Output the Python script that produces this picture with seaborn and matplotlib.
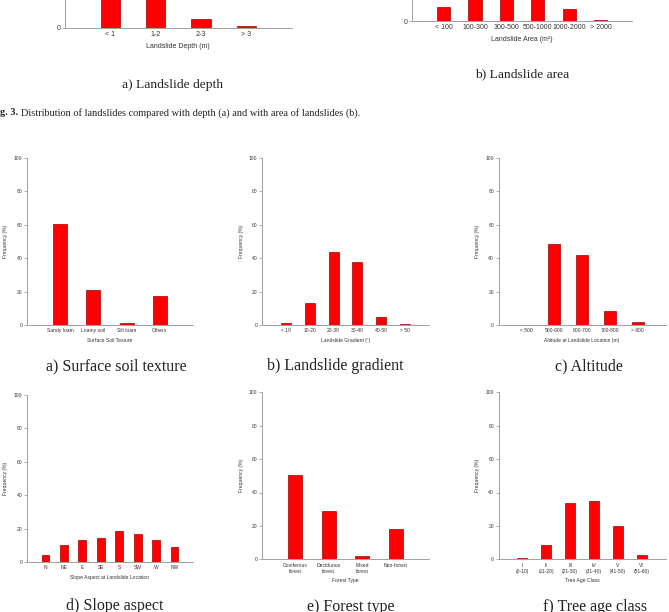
import pandas as pd
import seaborn as sns
import matplotlib.pyplot as plt

# Data (frequency in %)
depth_cats = ['< 1', '1-2', '2-3', '> 3']
depth_freq = [48.0, 46.0, 5.0, 1.0]
area_cats = ['< 100', '100-300', '300-500', '500-1000', '1000-2000', '> 2000']
area_freq = [8.2, 28.0, 30.0, 26.0, 7.4, 0.6]
soil_cats = ['Sandy loam', 'Loamy soil', 'Silt loam', 'Others']
soil_freq = [60.4, 21.1, 1.2, 17.3]
gradient_cats = ['< 10', '10-20', '20-30', '30-40', '40-50', '> 50']
gradient_freq = [1.4, 13.0, 43.5, 37.7, 4.6, 0.3]
altitude_cats = ['< 500', '500-600', '600-700', '700-800', '> 800']
altitude_freq = [0.0, 48.7, 41.7, 8.2, 1.8]
aspect_cats = ['N', 'NE', 'E', 'SE', 'S', 'SW', 'W', 'NW']
aspect_freq = [4.2, 10.2, 13.0, 14.6, 18.6, 16.8, 13.0, 8.8]
forest_cats = ['Coniferous\nforest', 'Deciduous\nforest', 'Mixed\nforest', 'Non-forest']
forest_freq = [50.2, 29.2, 2.2, 18.4]
age_cats = ['I\n(0-10)', 'II\n(11-20)', 'III\n(21-30)', 'IV\n(31-40)', 'V\n(41-50)', 'VI\n(51-60)']
age_freq = [0.8, 8.4, 33.6, 35.0, 20.0, 2.8]

W, H = 669, 612
sns.set_style('white')
plt.rcParams['font.family'] = ['Liberation Sans', 'DejaVu Sans']

fig = plt.figure(figsize=(W / 100, H / 100), dpi=100)
SPINE = '#a0a0a0'
TXT = '#333333'
SERIF = ['Liberation Serif', 'DejaVu Serif']


def bar_panel(cats, vals, left, zero_y, width, fs, xlabel, cropped=False):
    # axes placed in pixel units, 167 px for 0-100 %
    ax = fig.add_axes([left / W, 1 - zero_y / H, width / W, 167 / H])
    df = pd.DataFrame({'cat': cats, 'freq': vals})
    sns.barplot(data=df, x='cat', y='freq', color='#ff0000', saturation=1,
                width=0.42, edgecolor='#a00000', linewidth=0.5, ax=ax)
    ax.set_xlim(-1, len(cats))
    ax.set_ylim(0, 100)
    sns.despine(ax=ax)
    for s in ['left', 'bottom']:
        ax.spines[s].set_color(SPINE)
        ax.spines[s].set_linewidth(0.7)
    ax.tick_params(axis='y', length=2.2, width=0.6, color=SPINE,
                   labelsize=fs, labelcolor=TXT, pad=1, left=True)
    ax.tick_params(axis='x', length=0, labelsize=fs, labelcolor=TXT, pad=2.5)
    ax.set_xlabel(xlabel, fontsize=fs, color=TXT, labelpad=3.5)
    if cropped:
        # the upper part of these charts is cut off by the page edge
        ax.set_yticks([0])
        ax.set_ylabel('')
    else:
        ax.set_yticks(range(0, 101, 20))
        ax.set_ylabel('Frequency (%)', fontsize=fs, color=TXT, labelpad=4)
    return ax


# partially visible top row (Fig. 3)
bar_panel(depth_cats, depth_freq, 65, 27.7, 226.7, 5, 'Landslide Depth (m)', cropped=True)
bar_panel(area_cats, area_freq, 412, 21, 220.3, 5, 'Landslide Area (m\u00b2)', cropped=True)

# Fig. 4 panels
bar_panel(soil_cats, soil_freq, 27, 325, 166, 3.6, 'Surface Soil Texture')
bar_panel(gradient_cats, gradient_freq, 262, 325, 167, 3.6, 'Landslide Gradient (\u00b0)')
bar_panel(altitude_cats, altitude_freq, 498.5, 325, 167, 3.6, 'Altitude at Landslide Location (m)')
bar_panel(aspect_cats, aspect_freq, 27, 562, 166, 3.6, 'Slope Aspect at Landslide Location')
bar_panel(forest_cats, forest_freq, 262, 559.3, 167, 3.6, 'Forest Type')
bar_panel(age_cats, age_freq, 498.5, 559.3, 167, 3.6, 'Tree Age Class')

# panel captions (x center, baseline y, text, size)
captions = [
    (173, 87.7, 'a) Landslide depth', 9.7),
    (522, 77.0, 'b) Landslide area', 9.7),
    (116, 370, 'a) Surface soil texture', 11.5),
    (335, 370, 'b) Landslide gradient', 11.5),
    (589, 370, 'c) Altitude', 11.5),
    (115, 610.5, 'd) Slope aspect', 11.5),
    (351, 611, 'e) Forest type', 11.5),
    (595, 611, 'f) Tree age class', 11.5),
]
for x, y, t, s in captions:
    fig.text(x / W, 1 - y / H, t, ha='center', va='baseline', fontsize=s,
             family=SERIF, color='#222222')

# figure caption, cut at the left page edge
t1 = fig.text(-9 / W, 1 - 115.3 / H, 'Fig. 3.', fontsize=7.4, fontweight='bold',
              family=SERIF, color='#222222', va='baseline')
bb = t1.get_window_extent(renderer=fig.canvas.get_renderer())
fig.text((bb.x1 + 2.5) / W, 1 - 115.3 / H,
         'Distribution of landslides compared with depth (a) and with area of landslides (b).',
         fontsize=7.4, family=SERIF, color='#222222', va='baseline')

fig.savefig('out.png', dpi=100)
plt.close()
